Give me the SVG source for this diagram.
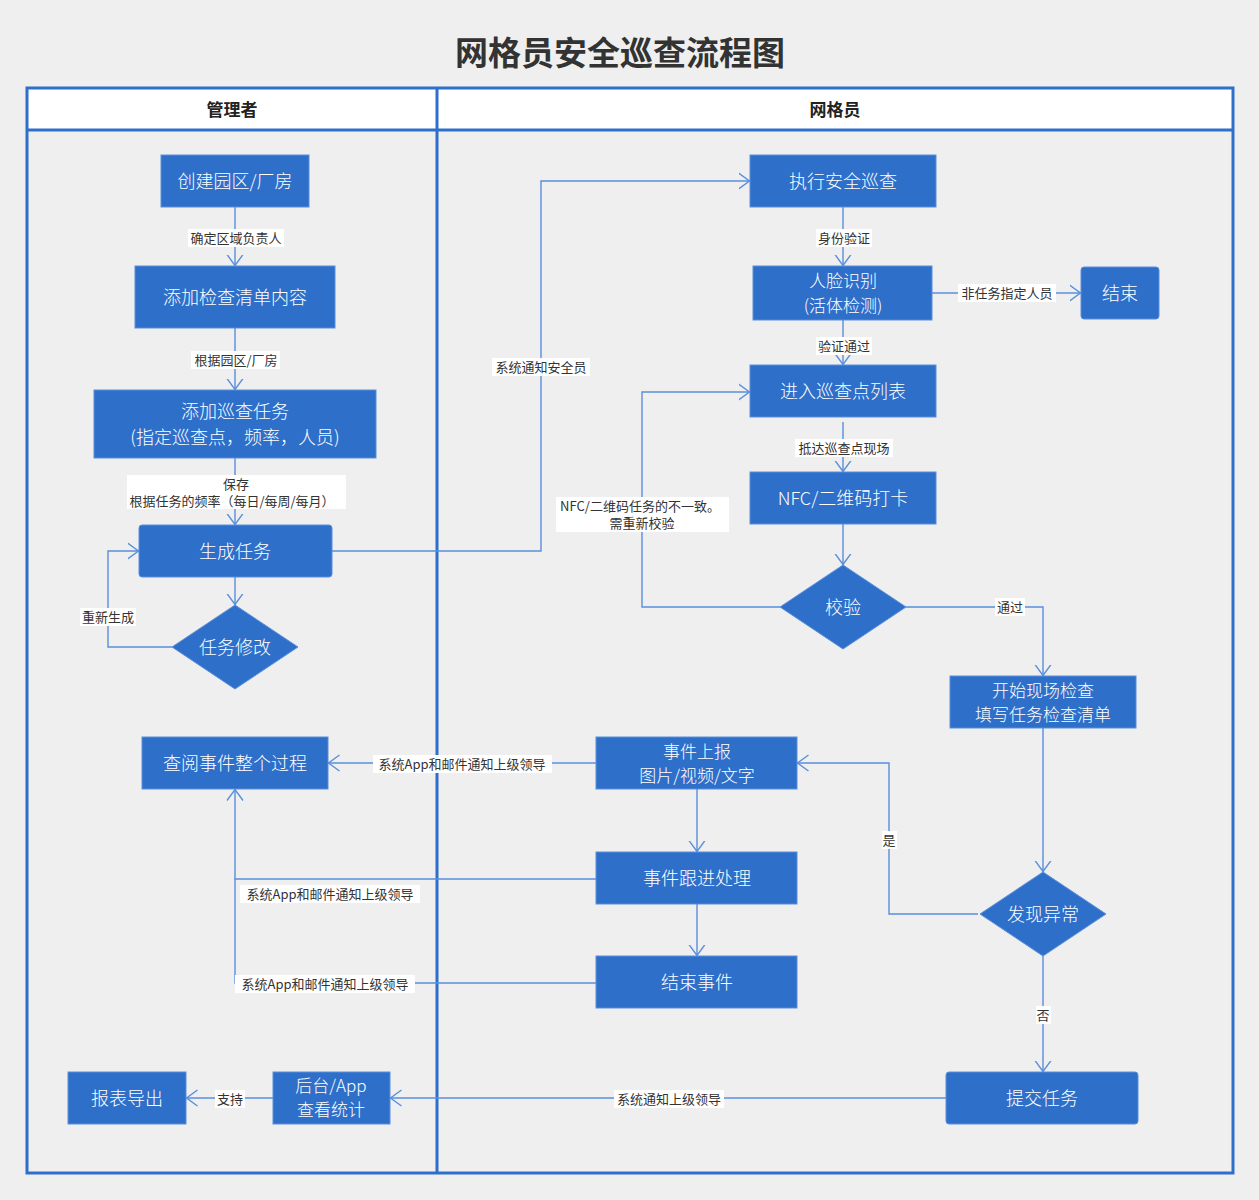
<svg xmlns="http://www.w3.org/2000/svg" width="1259" height="1200" viewBox="0 0 1259 1200">
<style>
.bg{fill:#efefef}
.lane{fill:none;stroke:#2f6fcc;stroke-width:3}
.hdr{fill:#ffffff}
.node{fill:#2e6fca;stroke:#5a8fdc;stroke-width:1}
.nt{font-family:"Noto Sans CJK SC","Noto Sans",sans-serif;font-size:18px;fill:#ffffff;text-anchor:middle;font-weight:300}
.nt2{font-size:17px}
.edge{fill:none;stroke:#5a8fdc;stroke-width:1.4}
.lb{fill:#ffffff}
.lt{font-family:"Noto Sans CJK SC","Noto Sans",sans-serif;font-size:13px;fill:#333333;text-anchor:middle}
.ht{font-family:"Noto Sans CJK SC","Noto Sans",sans-serif;font-size:17px;font-weight:bold;fill:#222222;text-anchor:middle}
.title{font-family:"Noto Sans CJK SC","Noto Sans",sans-serif;font-size:33px;font-weight:bold;fill:#333333;text-anchor:middle}
</style>
<defs>
<marker id="arr" viewBox="0 0 12 18" refX="11.5" refY="9" markerWidth="12" markerHeight="18" markerUnits="userSpaceOnUse" orient="auto">
<path d="M0,1 L11,9 L0,17" fill="none" stroke="#5a8fdc" stroke-width="1.4"/>
</marker>
</defs>
<rect class="bg" x="0" y="0" width="1259" height="1200"/>
<text class="title" x="620" y="65">网格员安全巡查流程图</text>

<g id="pool">
<rect class="hdr" x="27" y="88" width="1206" height="42"/>
<rect class="lane" x="27" y="88" width="1206" height="1085"/>
<line class="lane" x1="27" y1="130" x2="1233" y2="130"/>
<line class="lane" x1="437" y1="88" x2="437" y2="1173"/>
<text class="ht" x="232" y="116">管理者</text>
<text class="ht" x="835" y="116">网格员</text>
</g>

<g id="connectors">
<path class="edge" d="M235,207 V266" marker-end="url(#arr)"/>
<path class="edge" d="M235,328 V390" marker-end="url(#arr)"/>
<path class="edge" d="M235,458 V525" marker-end="url(#arr)"/>
<path class="edge" d="M235,577 V605" marker-end="url(#arr)"/>
<path class="edge" d="M172,647 H108 V551 H139" marker-end="url(#arr)"/>
<path class="edge" d="M332,551 H541 V181 H750" marker-end="url(#arr)"/>
<path class="edge" d="M843,207 V266" marker-end="url(#arr)"/>
<path class="edge" d="M932,293 H1081" marker-end="url(#arr)"/>
<path class="edge" d="M843,320 V365" marker-end="url(#arr)"/>
<path class="edge" d="M843,422 V472" marker-end="url(#arr)"/>
<path class="edge" d="M843,524 V565" marker-end="url(#arr)"/>
<path class="edge" d="M780,607 H642 V392 H750" marker-end="url(#arr)"/>
<path class="edge" d="M906,607 H1043 V676" marker-end="url(#arr)"/>
<path class="edge" d="M1043,728 V872" marker-end="url(#arr)"/>
<path class="edge" d="M978,914 H889 V763 H797" marker-end="url(#arr)"/>
<path class="edge" d="M1043,956 V1072" marker-end="url(#arr)"/>
<path class="edge" d="M697,789 V852" marker-end="url(#arr)"/>
<path class="edge" d="M697,904 V956" marker-end="url(#arr)"/>
<path class="edge" d="M596,763 H328" marker-end="url(#arr)"/>
<path class="edge" d="M596,879 H235 V789" marker-end="url(#arr)"/>
<path class="edge" d="M596,983 H235 V879"/>
<path class="edge" d="M946,1098 H390" marker-end="url(#arr)"/>
<path class="edge" d="M273,1098 H186" marker-end="url(#arr)"/>

<rect class="lb" x="188" y="229" width="96" height="18"/>
<text class="lt" x="236" y="243">确定区域负责人</text>
<rect class="lb" x="191" y="351" width="89" height="18"/>
<text class="lt" x="236" y="365">根据园区/厂房</text>
<rect class="lb" x="127" y="475" width="219" height="34"/>
<text class="lt" x="236" y="489">保存</text>
<text class="lt" x="232" y="506">根据任务的频率（每日/每周/每月）</text>
<rect class="lb" x="80" y="608" width="56" height="18"/>
<text class="lt" x="108" y="622">重新生成</text>
<rect class="lb" x="492" y="358" width="98" height="18"/>
<text class="lt" x="541" y="372">系统通知安全员</text>
<rect class="lb" x="816" y="229" width="56" height="18"/>
<text class="lt" x="844" y="243">身份验证</text>
<rect class="lb" x="958" y="284" width="98" height="18"/>
<text class="lt" x="1007" y="298">非任务指定人员</text>
<rect class="lb" x="816" y="337" width="56" height="18"/>
<text class="lt" x="844" y="351">验证通过</text>
<rect class="lb" x="795" y="439" width="98" height="18"/>
<text class="lt" x="844" y="453">抵达巡查点现场</text>
<rect class="lb" x="556" y="497" width="173" height="35"/>
<text class="lt" x="640" y="511">NFC/二维码任务的不一致。</text>
<text class="lt" x="642" y="528">需重新校验</text>
<rect class="lb" x="995" y="598" width="30" height="18"/>
<text class="lt" x="1010" y="612">通过</text>
<rect class="lb" x="882" y="831" width="15" height="18"/>
<text class="lt" x="889" y="845">是</text>
<rect class="lb" x="1036" y="1006" width="15" height="18"/>
<text class="lt" x="1043" y="1020">否</text>
<rect class="lb" x="373" y="755" width="179" height="18"/>
<text class="lt" x="462" y="769">系统App和邮件通知上级领导</text>
<rect class="lb" x="240" y="885" width="180" height="18"/>
<text class="lt" x="330" y="899">系统App和邮件通知上级领导</text>
<rect class="lb" x="235" y="975" width="180" height="18"/>
<text class="lt" x="325" y="989">系统App和邮件通知上级领导</text>
<rect class="lb" x="614" y="1090" width="110" height="18"/>
<text class="lt" x="669" y="1104">系统通知上级领导</text>
<rect class="lb" x="215" y="1090" width="30" height="18"/>
<text class="lt" x="230" y="1104">支持</text>
</g>

<g id="n_create"><rect class="node" x="161" y="155" width="148" height="52"/><text class="nt" x="235" y="188">创建园区/厂房</text></g>
<g id="n_checklist"><rect class="node" x="135" y="266" width="200" height="62"/><text class="nt" x="235" y="304">添加检查清单内容</text></g>
<g id="n_addtask"><rect class="node" x="94" y="390" width="282" height="68"/><text class="nt" x="235" y="418">添加巡查任务</text><text class="nt" x="235" y="444">(指定巡查点，频率，人员)</text></g>
<g id="n_gentask"><rect class="node" x="139" y="525" width="193" height="52" rx="3"/><text class="nt" x="235" y="558">生成任务</text></g>
<g id="n_modify"><polygon class="node" points="235,605 298,647 235,689 172,647"/><text class="nt" x="235" y="654">任务修改</text></g>
<g id="n_review"><rect class="node" x="142" y="737" width="186" height="52"/><text class="nt" x="235" y="770">查阅事件整个过程</text></g>
<g id="n_export"><rect class="node" x="68" y="1072" width="118" height="52"/><text class="nt" x="127" y="1105">报表导出</text></g>
<g id="n_stats"><rect class="node" x="273" y="1072" width="117" height="52"/><text class="nt nt2" x="331" y="1092">后台/App</text><text class="nt nt2" x="331" y="1116">查看统计</text></g>

<g id="n_exec"><rect class="node" x="750" y="155" width="186" height="52"/><text class="nt" x="843" y="188">执行安全巡查</text></g>
<g id="n_face"><rect class="node" x="753" y="266" width="179" height="54"/><text class="nt nt2" x="843" y="287">人脸识别</text><text class="nt nt2" x="843" y="312">(活体检测)</text></g>
<g id="n_end"><rect class="node" x="1081" y="267" width="78" height="52" rx="3"/><text class="nt" x="1120" y="300">结束</text></g>
<g id="n_list"><rect class="node" x="750" y="365" width="186" height="52"/><text class="nt" x="843" y="398">进入巡查点列表</text></g>
<g id="n_nfc"><rect class="node" x="750" y="472" width="186" height="52"/><text class="nt" x="843" y="505">NFC/二维码打卡</text></g>
<g id="n_verify"><polygon class="node" points="843,565 906,607 843,649 780,607"/><text class="nt" x="843" y="614">校验</text></g>
<g id="n_inspect"><rect class="node" x="950" y="676" width="186" height="52"/><text class="nt nt2" x="1043" y="697">开始现场检查</text><text class="nt nt2" x="1043" y="721">填写任务检查清单</text></g>
<g id="n_report"><rect class="node" x="596" y="737" width="201" height="52"/><text class="nt nt2" x="697" y="758">事件上报</text><text class="nt nt2" x="697" y="782">图片/视频/文字</text></g>
<g id="n_follow"><rect class="node" x="596" y="852" width="201" height="52"/><text class="nt" x="697" y="885">事件跟进处理</text></g>
<g id="n_close"><rect class="node" x="596" y="956" width="201" height="52"/><text class="nt" x="697" y="989">结束事件</text></g>
<g id="n_abnormal"><polygon class="node" points="1043,872 1106,914 1043,956 980,914"/><text class="nt" x="1043" y="921">发现异常</text></g>
<g id="n_submit"><rect class="node" x="946" y="1072" width="192" height="52" rx="3"/><text class="nt" x="1042" y="1105">提交任务</text></g>
</svg>
